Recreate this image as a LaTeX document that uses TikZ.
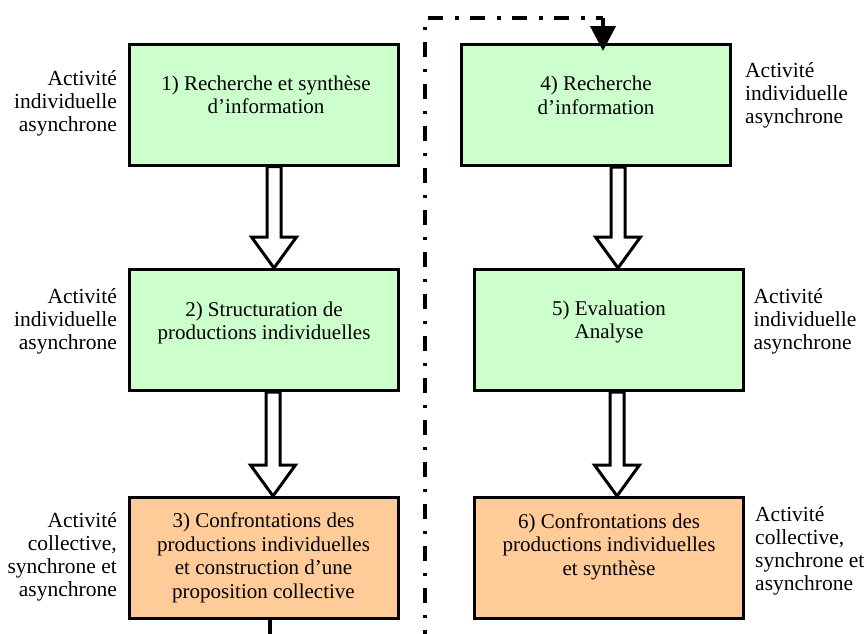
\documentclass[tikz,border=0pt]{standalone}
\usepackage{fontspec}
\setmainfont{Liberation Serif}
\usetikzlibrary{calc,arrows.meta}
\definecolor{lgreen}{HTML}{CCFFCC}
\definecolor{lorange}{HTML}{FFCC99}
\newcommand\hollowarrow[2]{%
  \draw[hollow] ($(#1)+(-7,0)$) -- ($(#2)+(-7,-31)$) -- ($(#2)+(-22.5,-31)$) -- (#2)
    -- ($(#2)+(22.5,-31)$) -- ($(#2)+(7,-31)$) -- ($(#1)+(7,0)$) -- cycle;}
\begin{document}
\begin{tikzpicture}[x=1pt,y=-1pt,
  box/.style={draw, line width=3pt, minimum width=269pt, minimum height=121pt, inner sep=0pt},
  txt/.style={align=center, font=\fontsize{21}{23.5}\selectfont, inner sep=0pt,
    execute at begin node=\strut, execute at end node=\strut},
  sidel/.style={align=right, anchor=east, font=\fontsize{21.5}{23}\selectfont, inner sep=0pt,
    execute at begin node=\strut, execute at end node=\strut},
  sider/.style={align=left, anchor=west, font=\fontsize{21.5}{23}\selectfont, inner sep=0pt,
    execute at begin node=\strut, execute at end node=\strut},
  hollow/.style={draw, fill=white, line width=3pt, line join=miter},
  dashdot/.style={line width=4pt, dash pattern=on 15pt off 12pt on 3.5pt off 11.5pt}
]
\path[use as bounding box] (0,0) rectangle (867,633);
\clip (0,0) rectangle (867,633);

% boxes
\node[box, fill=lgreen]  (b1) at (264,104.5) {};
\node[box, fill=lgreen]  (b2) at (264,330) {};
\node[box, fill=lorange] (b3) at (264,558) {};
\node[box, fill=lgreen]  (b4) at (596,105) {};
\node[box, fill=lgreen]  (b5) at (609,330) {};
\node[box, fill=lorange] (b6) at (609,558) {};

% box texts
\node[txt] (t1) at (266,98.2) {1) Recherche et synthèse\\d’information};
\node[txt] (t2) at (264,324.3) {2) Structuration de\\productions individuelles};
\node[txt] (t3) at (263.5,559.1) {3) Confrontations des\\productions individuelles\\et construction d’une\\proposition collective};
\node[txt] (t4) at (596,98.9) {4) Recherche\\d’information};
\node[txt] (t5) at (609,323.2) {5) Evaluation\\Analyse};
\node[txt] (t6) at (609,547.7) {6) Confrontations des\\productions individuelles\\et synthèse};

% side labels
\node[sidel] (l1) at (117,104.4) {Activité\\individuelle\\asynchrone};
\node[sidel] (l2) at (117,322.6) {Activité\\individuelle\\asynchrone};
\node[sidel] (l3) at (117,557.9) {Activité\\collective,\\synchrone et\\asynchrone};
\node[sider] (r1) at (745,96.2) {Activité\\individuelle\\asynchrone};
\node[sider] (r2) at (753.5,322.1) {Activité\\individuelle\\asynchrone};
\node[sider] (r3) at (755,552.1) {Activité\\collective,\\synchrone et\\asynchrone};

% hollow arrows
\coordinate (a1s) at ($(b1.south)+(10,0)$);
\coordinate (a1e) at ($(b2.north)+(10,0)$);
\coordinate (a2s) at ($(b2.south)+(9,0)$);
\coordinate (a2e) at ($(b3.north)+(9,0)$);
\coordinate (a3s) at ($(b4.south)+(22,0)$);
\coordinate (a3e) at ($(b5.north)+(9,0)$);
\coordinate (a4s) at ($(b5.south)+(8,0)$);
\coordinate (a4e) at ($(b6.north)+(8,0)$);
\hollowarrow{a1s}{a1e}
\hollowarrow{a2s}{a2e}
\hollowarrow{a3s}{a3e}
\hollowarrow{a4s}{a4e}

% feedback dash-dot loop
\coordinate (p1) at (270,660);
\coordinate (p2) at (425,660);
\coordinate (p3) at (425,18);
\coordinate (p4) at (603,18);
\coordinate (p5) at ($(b4.north)+(7,8)$);
\draw[dashdot] ($(b3.south)+(6,0)$) -- (p1) -- (p2) -- (p3) -- (p4);
\draw[line width=4pt, -{Triangle[length=25pt,width=25pt]}] (p4) -- (p5);
\end{tikzpicture}
\end{document}
